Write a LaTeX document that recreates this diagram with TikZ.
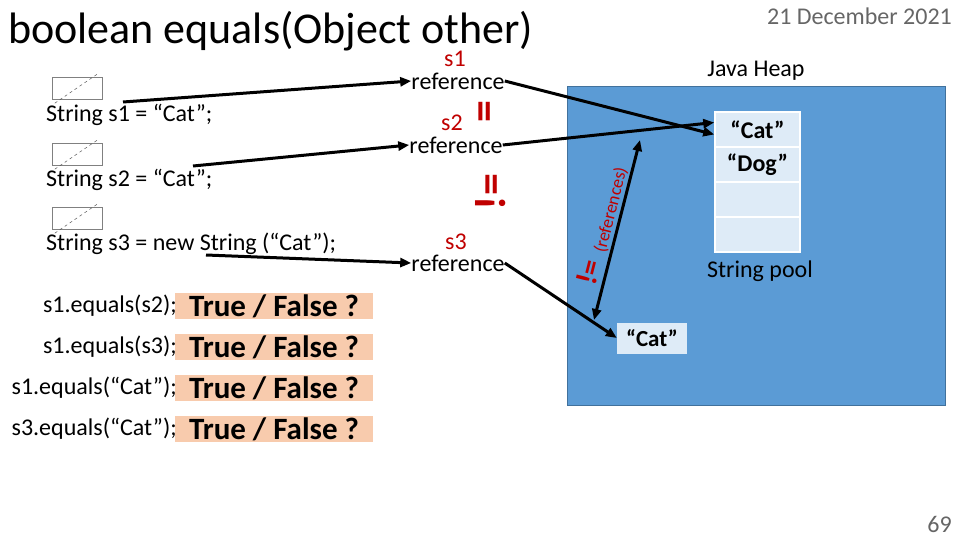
\documentclass[tikz,border=0pt]{standalone}
\usepackage{fontspec}
\setmainfont{Carlito}
\usetikzlibrary{arrows.meta}
\definecolor{heap}{HTML}{5B9BD5}
\definecolor{heapb}{HTML}{41719C}
\definecolor{cell}{HTML}{DEEBF7}
\definecolor{ans}{HTML}{F8CBAD}
\definecolor{red1}{HTML}{C00000}
\begin{document}
\begin{tikzpicture}[x=1pt,y=-1pt,
  conn/.style={line width=3pt,-{Triangle[length=11pt,width=9pt]}},
  code/.style={font=\fontsize{24}{26}\selectfont,anchor=west,inner sep=0pt},
  refl/.style={font=\fontsize{24}{26}\selectfont,inner sep=0pt},
  redl/.style={font=\fontsize{24}{26}\selectfont,text=red1,inner sep=0pt},
  var/.style={draw=gray,minimum width=50pt,minimum height=22pt,inner sep=0pt},
  pcell/.style={draw=white,line width=1.5pt,fill=cell,minimum width=85pt,minimum height=35pt,inner sep=0pt,font=\bfseries\fontsize{24}{26}\selectfont},
  q/.style={fill=ans,minimum width=198pt,minimum height=26pt,inner sep=0pt,font=\bfseries\fontsize{31}{32}\selectfont},
  ql/.style={font=\fontsize{24}{26}\selectfont,anchor=east,inner sep=0pt}]
\useasboundingbox (0,0) rectangle (960,540);
\node[anchor=west,inner sep=0pt,font=\fontsize{44}{46}\selectfont] (title) at (8,31) {boolean equals(Object other)};
\node[anchor=east,inner sep=0pt,text=gray!80!black,font=\fontsize{24}{26}\selectfont] (date) at (952,16) {21 December 2021};
\node[anchor=east,inner sep=0pt,text=gray!80!black,font=\fontsize{24}{26}\selectfont] (pg) at (952,524) {69};
% heap
\node[draw=heapb,fill=heap,line width=1pt,minimum width=378pt,minimum height=318pt,inner sep=0pt] (heap) at (756,246) {};
\node[font=\fontsize{24}{26}\selectfont,inner sep=0pt] (jh) at (756,71) {Java Heap};
\node[pcell] (c1) at (757.5,129.5) {“Cat”};
\node[pcell] (c2) at (757.5,164.5) {“Dog”};
\node[pcell] (c3) at (757.5,199.5) {};
\node[pcell] (c4) at (757.5,234.5) {};
\node[font=\fontsize{24}{26}\selectfont,inner sep=0pt] (sp) at (760,271) {String pool};
\node[fill=cell,minimum width=70pt,minimum height=31pt,inner sep=0pt,font=\bfseries\fontsize{23}{25}\selectfont] (cat3) at (652,338) {“Cat”};
% variables
\foreach \n/\y in {1/88,2/154,3/218}{
  \node[var] (v\n) at (77,\y) {};
  \draw[gray!70!black,dashed,line width=0.5pt] ([shift={(3pt,-4pt)}]v\n.south west) -- ([shift={(-3pt,4pt)}]v\n.north east);
}
\node[code] (t1) at (46,115) {String s1 = “Cat”;};
\node[code] (t2) at (46,180) {String s2 = “Cat”;};
\node[code] (t3) at (46,244) {String s3 = new String (“Cat”);};
% references
\node[redl] (s1l) at (455,59) {s1};
\node[refl] (r1) at (458,81) {reference};
\node[redl] (s2l) at (452,123) {s2};
\node[refl] (r2) at (456,145) {reference};
\node[redl] (s3l) at (456,242) {s3};
\node[refl] (r3) at (458,263) {reference};
\node[redl,rotate=90,font=\bfseries\fontsize{44}{46}\selectfont] (eq) at (489,112) {=};
\node[redl,rotate=90,font=\bfseries\fontsize{44}{46}\selectfont] (neq) at (491,192) {!=};
\coordinate (a1) at (123,102);
\coordinate (a2) at (193,166);
\coordinate (a3) at (206,255);
\draw[conn] (a1) -- (r1.west);
\draw[conn] (a2) -- (r2.west);
\draw[conn] (a3) -- (r3.west);
\draw[conn] (r1.east) -- ([yshift=-5pt]c1.west);
\draw[conn] (r2.east) -- ([yshift=7pt]c1.west);
\draw[conn] (r3.east) -- (cat3.west);
\coordinate (d1) at (640,140);
\coordinate (d2) at (594,320);
\draw[line width=3pt,{Triangle[length=11pt,width=9pt]}-{Triangle[length=11pt,width=9pt]}] (d1) -- (d2);
\node[redl,rotate=75.7,font=\bfseries\fontsize{30}{32}\selectfont] (ne2) at (589,272) {!=};
\node[redl,rotate=75.7,font=\fontsize{18}{20}\selectfont] (rl) at (611,210) {(references)};
% questions
\foreach \i/\y/\t in {1/306/s1.equals(s2);,2/347/s1.equals(s3);,3/388/s1.equals(“Cat”);,4/429/s3.equals(“Cat”);}{
  \node[q] (q\i) at (274,\y) {True / False ?};
  \node[ql] (l\i) at (177,\y) {\t};
}
\end{tikzpicture}
\end{document}
